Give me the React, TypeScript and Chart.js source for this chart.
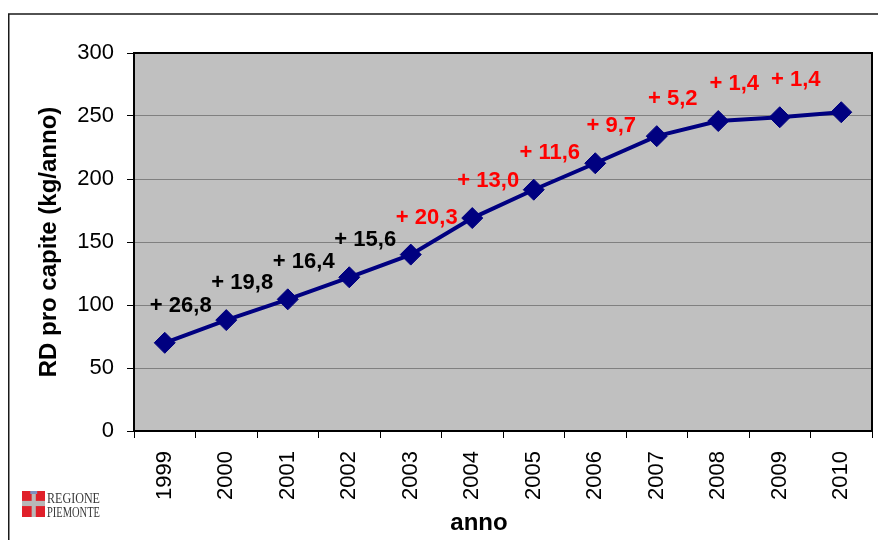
import React, { useEffect, useRef } from 'react';
import { Chart, registerables } from 'chart.js';

Chart.register(...registerables);

const years = ['1999', '2000', '2001', '2002', '2003', '2004', '2005', '2006', '2007', '2008', '2009', '2010'];
const rdPerCapita = [70, 88, 104.5, 122, 140, 169, 191.5, 212.5, 234, 246, 249, 253];
const growthLabels = ['+ 26,8', '+ 19,8', '+ 16,4', '+ 15,6', '+ 20,3', '+ 13,0', '+ 11,6', '+ 9,7', '+ 5,2', '+ 1,4', '+ 1,4'];
const growthColors = ['#000000', '#000000', '#000000', '#000000', '#FF0000', '#FF0000', '#FF0000', '#FF0000', '#FF0000', '#FF0000', '#FF0000'];
const yMin = 0;
const yMax = 300;
const yStep = 50;

const FONT = "'Liberation Sans', Arial, Helvetica, sans-serif";

const decorPlugin = {
  id: 'decor',
  beforeDraw(chart: any) {
    const { ctx, chartArea: a, width, height } = chart;
    ctx.save();
    ctx.fillStyle = '#ffffff';
    ctx.fillRect(0, 0, width, height);
    ctx.fillStyle = '#C0C0C0';
    ctx.fillRect(a.left, a.top, a.right - a.left, a.bottom - a.top);
    ctx.strokeStyle = '#1a1a1a';
    ctx.lineWidth = 1.5;
    ctx.beginPath();
    ctx.moveTo(8.75, height);
    ctx.lineTo(8.75, 14);
    ctx.lineTo(width, 14);
    ctx.stroke();
    ctx.restore();
  },
  beforeDatasetsDraw(chart: any) {
    const { ctx, chartArea: a } = chart;
    ctx.save();
    ctx.strokeStyle = '#000000';
    ctx.lineWidth = 2;
    ctx.strokeRect(a.left, a.top, a.right - a.left, a.bottom - a.top);
    ctx.restore();
  },
  afterDatasetsDraw(chart: any) {
    const { ctx } = chart;
    const meta = chart.getDatasetMeta(0);
    ctx.save();
    ctx.font = `bold 22px ${FONT}`;
    ctx.textAlign = 'center';
    ctx.textBaseline = 'middle';
    growthLabels.forEach((t, i) => {
      const p = meta.data[i];
      if (!p) return;
      ctx.fillStyle = growthColors[i];
      ctx.fillText(t, p.x + 16, p.y - 37);
    });
    ctx.restore();
  },
  afterDraw(chart: any) {
    const { ctx, chartArea: a } = chart;
    ctx.save();
    // x axis title
    ctx.fillStyle = '#000000';
    ctx.font = `bold 24px ${FONT}`;
    ctx.textAlign = 'center';
    ctx.textBaseline = 'middle';
    ctx.fillText('anno', (a.left + a.right) / 2 - 24, 523);
    // logo
    const fx = 22, fy = 491, fw = 23, fh = 26;
    ctx.fillStyle = '#E0202A';
    ctx.fillRect(fx, fy, fw, fh);
    ctx.fillStyle = '#B8B8B8';
    ctx.fillRect(fx + fw * 0.42, fy, fw * 0.18, fh);
    ctx.fillRect(fx, fy + fh * 0.38, fw, fh * 0.2);
    ctx.fillStyle = '#7f8fc0';
    ctx.fillRect(fx + fw * 0.36, fy, fw * 0.3, 3);
    ctx.fillStyle = '#3a3a3a';
    ctx.font = "15px 'Liberation Serif', 'DejaVu Serif', serif";
    ctx.textAlign = 'left';
    ctx.textBaseline = 'alphabetic';
    ctx.fillText('REGIONE', 47, 503, 53);
    ctx.fillText('PIEMONTE', 47, 517, 53);
    ctx.restore();
  },
};

export default function App() {
  const ref = useRef<HTMLCanvasElement | null>(null);

  useEffect(() => {
    document.body.style.margin = '0';
    const canvas = ref.current;
    if (!canvas) return;
    const chart = new Chart(canvas, {
      type: 'line',
      data: {
        labels: years,
        datasets: [
          {
            data: rdPerCapita,
            borderColor: '#000080',
            backgroundColor: '#000080',
            borderWidth: 4,
            pointStyle: 'rectRot',
            pointRadius: 10.5,
            pointBorderWidth: 1,
            pointBorderColor: '#000080',
            pointBackgroundColor: '#000080',
            tension: 0,
            fill: false,
          },
        ],
      },
      options: {
        responsive: false,
        animation: false,
        layout: { autoPadding: false, padding: { top: 53, right: 6, left: 0, bottom: 0 } },
        plugins: {
          legend: { display: false },
          tooltip: { enabled: false },
        },
        scales: {
          x: {
            type: 'category',
            offset: true,
            border: { display: false },
            grid: {
              display: true,
              offset: true,
              drawOnChartArea: false,
              drawTicks: true,
              tickLength: 7,
              tickColor: '#000000',
              tickWidth: 1,
            },
            ticks: {
              autoSkip: false,
              maxRotation: 90,
              minRotation: 90,
              padding: 13,
              color: '#000000',
              font: { family: FONT, size: 22 },
            },
            afterFit(scale: any) {
              scale.height = 109;
              scale.paddingLeft = 0;
              scale.paddingRight = 0;
            },
          },
          y: {
            min: yMin,
            max: yMax,
            border: { display: false },
            grid: {
              color: '#808080',
              lineWidth: 1,
              drawTicks: true,
              tickLength: 7,
              tickColor: '#000000',
            },
            ticks: {
              stepSize: yStep,
              padding: 13,
              color: '#000000',
              font: { family: FONT, size: 22 },
            },
            title: {
              display: true,
              text: 'RD pro capite (kg/anno)',
              color: '#000000',
              font: { family: FONT, size: 24, weight: 'bold' },
              padding: { top: 35, bottom: 0 },
            },
            afterFit(scale: any) {
              scale.width = 134;
              scale.paddingTop = 0;
              scale.paddingBottom = 0;
            },
          },
        },
      },
      plugins: [decorPlugin],
    } as any);
    return () => chart.destroy();
  }, []);

  return (
    <div style={{ width: 878, height: 540 }}>
      <canvas ref={ref} width={878} height={540} style={{ display: 'block' }} />
    </div>
  );
}
